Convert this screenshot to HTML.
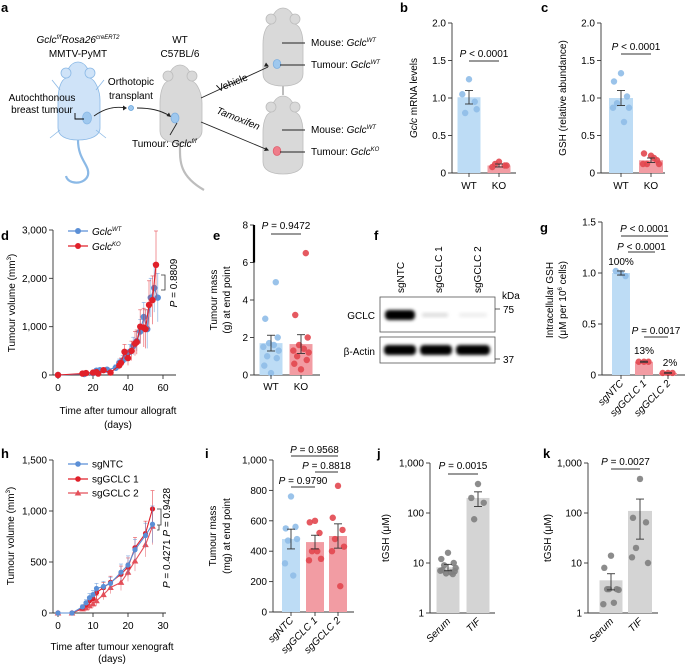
<!DOCTYPE html>
<html><head><meta charset="utf-8">
<style>
html,body{margin:0;padding:0;background:#fff;}
svg{display:block;font-family:"Liberation Sans",sans-serif;}
</style></head>
<body>
<svg id="fig" width="685" height="665" viewBox="0 0 685 665" xmlns="http://www.w3.org/2000/svg">
<defs>
<filter id="blur1" x="-20%" y="-50%" width="140%" height="200%"><feGaussianBlur stdDeviation="1.6"/></filter>
</defs>
<g font-size="10">
  <text x="1" y="12" font-weight="bold" font-size="13">a</text>
  <g fill="#cfe3f8" stroke="#8bb9e6" stroke-width="0.8">
    <path d="M78,62 C70,62 66,72 66,78 C60,80 58,92 58,100 L58,128 C58,136 66,140 78,140 C90,140 100,136 100,128 L100,100 C100,92 96,80 90,78 C90,72 86,62 78,62 Z"/>
    <circle cx="66" cy="73" r="5"/><circle cx="90" cy="73" r="5"/>
    <path d="M60,90 l-8,-10 M96,90 l8,-10 M60,130 l-10,8 M96,130 l10,8" fill="none"/>
    <path d="M78,140 C78,160 90,165 88,175 C85,185 68,185 66,176" fill="none" stroke-width="2.2"/>
    <ellipse cx="87" cy="118" rx="4.5" ry="6" fill="#9fc8ee"/>
  </g>
  <path d="M75,113 L75,119 L84,119" fill="none" stroke="#000" stroke-width="0.9"/>
  <g fill="#d9d9d9" stroke="#bdbdbd" stroke-width="0.8">
    <path d="M180,65 C172,65 168,75 168,81 C162,83 160,95 160,103 L160,131 C160,139 168,143 180,143 C192,143 202,139 202,131 L202,103 C202,95 198,83 192,81 C192,75 188,65 180,65 Z"/>
    <circle cx="168" cy="76" r="5"/><circle cx="192" cy="76" r="5"/>
    <path d="M180,143 C180,160 178,175 204,190" fill="none" stroke-width="2.2"/>
    <ellipse cx="175" cy="118" rx="4" ry="5" fill="#9fc8ee" stroke="#7fb0e0"/>
  </g>
  <g fill="#d9d9d9" stroke="#bdbdbd" stroke-width="0.8">
    <path d="M283,8 C275,8 271,18 271,24 C265,26 263,36 263,44 L263,74 C263,82 271,86 283,86 C295,86 303,82 303,74 L303,44 C303,36 301,26 295,24 C295,18 291,8 283,8 Z"/>
    <circle cx="271" cy="19" r="5"/><circle cx="295" cy="19" r="5"/>
    <path d="M283,86 L283,95" fill="none" stroke-width="2"/>
    <ellipse cx="277" cy="64" rx="3.8" ry="4.5" fill="#9fc8ee" stroke="#7fb0e0"/>
  </g>
  <g fill="#d9d9d9" stroke="#bdbdbd" stroke-width="0.8">
    <path d="M283,96 C275,96 271,106 271,112 C265,114 263,124 263,132 L263,162 C263,170 271,174 283,174 C295,174 303,170 303,162 L303,132 C303,124 301,114 295,112 C295,106 291,96 283,96 Z"/>
    <circle cx="271" cy="107" r="5"/><circle cx="295" cy="107" r="5"/>
    <ellipse cx="277" cy="151" rx="3.8" ry="4.5" fill="#ef7d8a" stroke="#e0606e"/>
  </g>
  <circle cx="131" cy="108" r="2.5" fill="#9fc8ee" stroke="#5fa0da" stroke-width="0.8"/>
  <g fill="none" stroke="#222" stroke-width="0.9">
    <path d="M94,116 C105,108 115,106 126,108"/>
    <path d="M137,108 C150,108 160,110 170,116"/>
    <line x1="201" y1="98" x2="268" y2="67"/>
    <line x1="201" y1="122" x2="268" y2="150"/>
    <line x1="177" y1="123" x2="170" y2="135"/>
    <line x1="282" y1="43" x2="305" y2="43"/><line x1="280" y1="65" x2="305" y2="65"/>
    <line x1="282" y1="130" x2="305" y2="130"/><line x1="280" y1="152" x2="305" y2="152"/>
  </g>
  <g fill="#222">
    <path d="M127,108 l-4,-2.5 l0,5 z"/><path d="M171,117 l-4.5,-1 l2.5,-3.5 z"/>
    <path d="M269,66.5 l-5,0 l2,-4 z"/><path d="M269,150.5 l-5,0.5 l2,-4 z"/>
  </g>
  <text x="78" y="43" text-anchor="middle"><tspan font-style="italic">Gclc</tspan><tspan font-size="6" dy="-4" font-style="italic">f/f</tspan><tspan dy="4" font-style="italic">Rosa26</tspan><tspan font-size="6" dy="-4" font-style="italic">creERT2</tspan></text>
  <text x="78" y="57" text-anchor="middle">MMTV-PyMT</text>
  <text x="180" y="43" text-anchor="middle">WT</text>
  <text x="180" y="57" text-anchor="middle">C57BL/6</text>
  <text x="131" y="85" text-anchor="middle">Orthotopic</text>
  <text x="131" y="99" text-anchor="middle">transplant</text>
  <text x="42" y="101" text-anchor="middle">Autochthonous</text>
  <text x="42" y="113" text-anchor="middle">breast tumour</text>
  <text x="132" y="147">Tumour: <tspan font-style="italic">Gclc</tspan><tspan font-size="6" dy="-4" font-style="italic">f/f</tspan></text>
  <text x="215" y="86" transform="rotate(-22 232 80)">Vehicle</text>
  <text x="212" y="120" transform="rotate(22 232 126)" font-style="italic">Tamoxifen</text>
  <text x="311" y="46">Mouse: <tspan font-style="italic">Gclc</tspan><tspan font-size="6" dy="-4" font-style="italic">WT</tspan></text>
  <text x="311" y="68">Tumour: <tspan font-style="italic">Gclc</tspan><tspan font-size="6" dy="-4" font-style="italic">WT</tspan></text>
  <text x="311" y="133">Mouse: <tspan font-style="italic">Gclc</tspan><tspan font-size="6" dy="-4" font-style="italic">WT</tspan></text>
  <text x="311" y="155">Tumour: <tspan font-style="italic">Gclc</tspan><tspan font-size="6" dy="-4" font-style="italic">KO</tspan></text>
</g>
<g font-size="10">
  <text x="374" y="240" font-weight="bold" font-size="13">f</text>
  <rect x="380" y="297" width="115" height="35" fill="#fff" stroke="#555" stroke-width="0.8"/>
  <rect x="380" y="337" width="115" height="26" fill="#fff" stroke="#555" stroke-width="0.8"/>
  <rect x="385" y="310" width="30" height="10" rx="4" fill="#000" filter="url(#blur1)"/>
  <rect x="422" y="313" width="26" height="4" rx="2" fill="#ddd" filter="url(#blur1)"/>
  <rect x="459" y="313" width="28" height="4" rx="2" fill="#eee" filter="url(#blur1)"/>
  <rect x="384" y="345" width="32" height="10" rx="4" fill="#000" filter="url(#blur1)"/>
  <rect x="420" y="345" width="32" height="10" rx="4" fill="#000" filter="url(#blur1)"/>
  <rect x="456" y="345" width="34" height="10" rx="4" fill="#000" filter="url(#blur1)"/>
  <text transform="translate(404,293) rotate(-90)">sgNTC</text>
  <text transform="translate(442,293) rotate(-90)">sgGCLC 1</text>
  <text transform="translate(481,293) rotate(-90)">sgGCLC 2</text>
  <text x="502" y="299">kDa</text>
  <line x1="495" y1="309" x2="500" y2="309" stroke="#333" stroke-width="0.8"/>
  <text x="503" y="313">75</text>
  <line x1="495" y1="359" x2="500" y2="359" stroke="#333" stroke-width="0.8"/>
  <text x="503" y="363">37</text>
  <text x="375" y="319" text-anchor="end">GCLC</text>
  <text x="375" y="355" text-anchor="end">β-Actin</text>
</g>
<g id="charts"></g>
</svg>
<script>
var bWT=[1.25,1.05,0.95,0.8,0.85], bKO=[0.15,0.08,0.1,0.12,0.1];
var bMeans=[1.01,0.1], bErr=[0.09,0.02];
var cWT=[1.33,1.22,1.02,0.93,0.87,0.87,0.68], cKO=[0.23,0.26,0.17,0.12,0.12,0.12,0.2];
var cMeans=[1.0,0.17], cErr=[0.1,0.03];
var dTimeWT=[0,15,20,22,24,28,33,35,37,39,41,43,45,47,49,51,53,55,57];
var dValWT=[0,20,40,90,100,110,150,250,300,390,480,600,700,900,1200,950,1600,1800,1600];
var dErrWT=[0,10,20,30,40,40,60,80,100,120,150,180,200,250,300,400,400,500,500];
var dTimeKO=[0,14,16,20,22,23,26,30,35,36,38,40,42,44,45,47,49,50,52,54,56];
var dValKO=[0,30,40,50,60,30,100,50,200,250,480,350,500,650,680,1000,980,950,1450,1550,2280];
var dErrKO=[0,10,10,20,20,20,30,30,80,100,150,150,200,250,250,350,400,400,500,500,700];
var eWT=[0.1,0.5,0.9,1.0,1.3,1.5,1.6,1.7,2.0,3.0,4.95], eKO=[0.3,0.6,0.8,1.0,1.2,1.3,1.4,1.6,2.0,3.2,6.5];
var eMeans=[1.7,1.65], eErr=[0.42,0.5];
var gNTC=[1.0,1.02,0.97], g1=[0.13,0.13,0.13], g2=[0.02,0.02,0.02];
var gMeans=[1.0,0.13,0.02], gErr=[0.02,0.005,0.003];
var hTime=[0,4,7,8,9,10,11,13,15,18,20,22,25,27];
var hNTC=[0,0,60,100,150,180,240,260,290,400,470,620,760,870];
var hSG1=[0,0,50,80,120,140,200,250,300,380,450,640,780,1020];
var hSG2=[0,0,40,50,70,90,120,180,250,300,400,510,670,850];
var hErr=[0,0,20,30,40,40,50,50,60,80,90,100,120,180];
var iNTC=[760,550,560,470,480,320,240], iSG1=[600,590,520,400,350,340,400], iSG2=[830,620,540,480,430,400,170];
var iMeans=[480,460,500], iErr=[65,45,80];
var jSerum=[16,12,10,9,8,7,6.5,6.2,6.8,7.2,6], jTIF=[380,200,160,75];
var jMeans=[8.2,200], jErr=[1.2,65];
var kSerum=[14,8,3,3,2.9,1.5,1.6,3], kTIF=[480,80,65,20,10,13];
var kMeans=[4.5,110], kErr=[1.6,80];

var C={blueBar:'#bddcf5',bluePt:'#8fbde8',redBar:'#f29ca3',redPt:'#e2474f',greyBar:'#d4d4d4',greyPt:'#808080',blueLine:'#5b8fd6',redLine:'#e0202a'};
var NS='http://www.w3.org/2000/svg';
var root=document.getElementById('charts');
function mk(tag,attrs,name,parent){
  var el=document.createElementNS(NS,tag);
  for(var k in attrs){el.setAttribute(k,attrs[k]);}
  
  
  (parent||root).appendChild(el);
  return el;
}
function txt(x,y,s,name,opts,parent){
  var a={x:x,y:y,'font-size':(opts&&opts.fs)||10};
  if(opts&&opts.anchor)a['text-anchor']=opts.anchor;
  if(opts&&opts.transform)a.transform=opts.transform;
  if(opts&&opts.italic)a['font-style']='italic';
  if(opts&&opts.bold)a['font-weight']='bold';
  var t=mk('text',a,name,parent);t.textContent=s;return t;
}
function lin(d0,d1,r0,r1){return function(v){return r0+(v-d0)/(d1-d0)*(r1-r0);};}
function logs(d0,d1,r0,r1){return function(v){return r0+(Math.log10(v)-Math.log10(d0))/(Math.log10(d1)-Math.log10(d0))*(r1-r0);};}
function yAxis(ax,ys,ticks,labels,x0,x1,name){
  var g=mk('g',{},name);
  mk('line',{x1:ax,y1:ys(ticks[0]),x2:ax,y2:ys(ticks[ticks.length-1]),stroke:'#333','stroke-width':0.9},'y-axis-line',g);
  for(var i=0;i<ticks.length;i++){
    mk('line',{x1:ax-4,y1:ys(ticks[i]),x2:ax,y2:ys(ticks[i]),stroke:'#333','stroke-width':0.9},'y-tick',g);
    txt(ax-6,ys(ticks[i])+3.5,labels[i],'y-tick-label',{anchor:'end'},g);
  }
  mk('line',{x1:ax,y1:ys(ticks[0]),x2:x1,y2:ys(ticks[0]),stroke:'#333','stroke-width':0.9},'x-axis-line',g);
}
var jit=[0,-7,6,-4,8,-8,3,-2,7,-6,5];
function barGroup(cx,w,ys,base,mean,err,pts,barC,ptC,name,tick){
  var g=mk('g',{},name);
  mk('rect',{x:cx-w/2,y:ys(mean),width:w,height:base-ys(mean),fill:barC},'bar',g);
  for(var i=0;i<pts.length;i++){
    mk('circle',{cx:cx+jit[i%jit.length]*(w/24),cy:ys(pts[i]),r:3.2,fill:ptC,'fill-opacity':0.9},'data-point',g);
  }
  mk('line',{x1:cx,y1:ys(mean+err),x2:cx,y2:ys(Math.max(mean-err,1e-9)),stroke:'#333','stroke-width':0.9},'error-bar',g);
  mk('line',{x1:cx-4,y1:ys(mean+err),x2:cx+4,y2:ys(mean+err),stroke:'#333','stroke-width':0.9},'error-cap',g);
  mk('line',{x1:cx-4,y1:ys(Math.max(mean-err,1e-9)),x2:cx+4,y2:ys(Math.max(mean-err,1e-9)),stroke:'#333','stroke-width':0.9},'error-cap',g);
  if(tick)mk('line',{x1:cx,y1:base,x2:cx,y2:base+4,stroke:'#333','stroke-width':0.9},'x-tick',g);
}
function pbar(x1,x2,y,label,name,ty){
  var g=mk('g',{},name);
  mk('line',{x1:x1,y1:y,x2:x2,y2:y,stroke:'#333','stroke-width':0.9},'significance-line',g);
  var t=txt((x1+x2)/2,ty,'','p-value',{anchor:'middle'},g);
  var s=document.createElementNS(NS,'tspan');s.setAttribute('font-style','italic');s.textContent='P';t.appendChild(s);
  t.appendChild(document.createTextNode(' '+label));
}
function rotLabel(x,y,s,name,italic){return txt(x,y,s,name,{anchor:'end',transform:'rotate(-45 '+x+' '+y+')',italic:italic});}

txt(400,12,'b','panel-label-b',{fs:13,bold:true});
var yb=lin(0,2,173,23);
yAxis(452,yb,[0,0.5,1,1.5,2],['0','0.5','1.0','1.5','2.0'],452,516,'panel-b-axis');
barGroup(469,23,yb,173,bMeans[0],bErr[0],bWT,C.blueBar,C.bluePt,'panel-b-wt',true);
barGroup(499,23,yb,173,bMeans[1],bErr[1],bKO,C.redBar,C.redPt,'panel-b-ko',true);
txt(469,189,'WT','x-label-wt',{anchor:'middle'});txt(499,189,'KO','x-label-ko',{anchor:'middle'});
pbar(469,499,61,'< 0.0001','panel-b-pvalue',57);
txt(417,98,'','panel-b-ylabel',{anchor:'middle',transform:'rotate(-90 417 98)'}).innerHTML='<tspan font-style="italic">Gclc</tspan> mRNA levels';
txt(541,12,'c','panel-label-c',{fs:13,bold:true});
var yc=lin(0,2,173,23);
yAxis(601,yc,[0,0.5,1,1.5,2],['0','0.5','1.0','1.5','2.0'],601,665,'panel-c-axis');
barGroup(621,24,yc,173,cMeans[0],cErr[0],cWT,C.blueBar,C.bluePt,'panel-c-wt',true);
barGroup(651,24,yc,173,cMeans[1],cErr[1],cKO,C.redBar,C.redPt,'panel-c-ko',true);
txt(621,189,'WT','x-label-wt',{anchor:'middle'});txt(651,189,'KO','x-label-ko',{anchor:'middle'});
pbar(621,651,54,'< 0.0001','panel-c-pvalue',50);
txt(566,98,'GSH (relative abundance)','panel-c-ylabel',{anchor:'middle',transform:'rotate(-90 566 98)'});

txt(1,240,'d','panel-label-d',{fs:13,bold:true});
var xd=lin(0,60,58,163), yd=lin(0,3000,375,230);
yAxis(53,yd,[0,1000,2000,3000],['0','1,000','2,000','3,000'],53,176,'panel-d-axis');
[0,20,40,60].forEach(function(v){
  mk('line',{x1:xd(v),y1:375,x2:xd(v),y2:379,stroke:'#333','stroke-width':0.9},'x-tick');
  txt(xd(v),391,String(v),'x-tick-label',{anchor:'middle'});
});
txt(118,414,'Time after tumour allograft','panel-d-xlabel',{anchor:'middle'});
txt(118,428,'(days)','panel-d-xlabel-units',{anchor:'middle'});
txt(15,303,'','panel-d-ylabel',{anchor:'middle',transform:'rotate(-90 15 303)'}).innerHTML='Tumour volume (mm<tspan font-size="6" dy="-4">3</tspan><tspan dy="4">)</tspan>';
function series(times,vals,errs,color,name,marker){
  var g=mk('g',{},name);
  for(var i=0;i<times.length;i++){
    mk('line',{x1:xd2(times[i]),y1:ys2(vals[i]+errs[i]),x2:xd2(times[i]),y2:ys2(Math.max(vals[i]-errs[i],0)),stroke:color,'stroke-width':0.8,'stroke-opacity':0.6},'error-bar',g);
    mk('line',{x1:xd2(times[i])-2,y1:ys2(vals[i]+errs[i]),x2:xd2(times[i])+2,y2:ys2(vals[i]+errs[i]),stroke:color,'stroke-width':0.8,'stroke-opacity':0.6},'error-cap',g);
  }
  var p='';for(var i=0;i<times.length;i++){p+=(i?'L':'M')+xd2(times[i]).toFixed(1)+','+ys2(vals[i]).toFixed(1);}
  mk('path',{d:p,fill:'none',stroke:color,'stroke-width':1.1},'series-line',g);
  for(var i=0;i<times.length;i++){
    if(marker==='tri'){var x=xd2(times[i]),y=ys2(vals[i]);
      mk('path',{d:'M'+x+','+(y-3.3)+'L'+(x+3.3)+','+(y+2.5)+'L'+(x-3.3)+','+(y+2.5)+'Z',fill:color},'data-point',g);}
    else mk('circle',{cx:xd2(times[i]),cy:ys2(vals[i]),r:marker==='big'?3.2:2.6,fill:color},'data-point',g);
  }
}
var xd2=xd, ys2=yd;
series(dTimeWT,dValWT,dErrWT,C.blueLine,'series-gclc-wt','big');
series(dTimeKO,dValKO,dErrKO,C.redLine,'series-gclc-ko','big');
mk('line',{x1:68,y1:231,x2:88,y2:231,stroke:C.blueLine,'stroke-width':1.2},'legend-line-wt');
mk('circle',{cx:78,cy:231,r:3,fill:C.blueLine},'legend-marker-wt');
txt(92,235,'','legend-entry-wt',{}).innerHTML='<tspan font-style="italic">Gclc</tspan><tspan font-size="6" dy="-4" font-style="italic">WT</tspan>';
mk('line',{x1:68,y1:246,x2:88,y2:246,stroke:C.redLine,'stroke-width':1.2},'legend-line-ko');
mk('circle',{cx:78,cy:246,r:3,fill:C.redLine},'legend-marker-ko');
txt(92,250,'','legend-entry-ko',{}).innerHTML='<tspan font-style="italic">Gclc</tspan><tspan font-size="6" dy="-4" font-style="italic">KO</tspan>';
mk('path',{d:'M161,275 L165,275 L165,290 L161,290',fill:'none',stroke:'#333','stroke-width':0.8},'d-bracket');
txt(177,283,'','panel-d-pvalue',{anchor:'middle',transform:'rotate(-90 177 283)'}).innerHTML='<tspan font-style="italic">P</tspan> = 0.8809';

txt(213,240,'e','panel-label-e',{fs:13,bold:true});
var ye=lin(0,8,375,225);
yAxis(254,ye,[0,2,4,6,8],['0','2','4','6','8'],254,320,'panel-e-axis');
mk('line',{x1:254,y1:ye(8),x2:254,y2:ye(6),stroke:'#000','stroke-width':2.2},'axis-artifact');
barGroup(271,23,ye,375,eMeans[0],eErr[0],eWT,C.blueBar,C.bluePt,'panel-e-wt',true);
barGroup(301,23,ye,375,eMeans[1],eErr[1],eKO,C.redBar,C.redPt,'panel-e-ko',true);
txt(271,390,'WT','x-label-wt',{anchor:'middle'});txt(301,390,'KO','x-label-ko',{anchor:'middle'});
pbar(271,301,234,'= 0.9472','panel-e-pvalue',229);
txt(217,300,'Tumour mass','panel-e-ylabel-1',{anchor:'middle',transform:'rotate(-90 217 300)'});
txt(230,300,'(g) at end point','panel-e-ylabel-2',{anchor:'middle',transform:'rotate(-90 230 300)'});

txt(540,232,'g','panel-label-g',{fs:13,bold:true});
var yg=lin(0,1.5,375,222);
yAxis(602,yg,[0,0.5,1,1.5],['0','0.5','1.0','1.5'],602,685,'panel-g-axis');
var gx=[621,644,668];
barGroup(gx[0],18,yg,375,gMeans[0],gErr[0],gNTC,C.blueBar,C.bluePt,'panel-g-sgntc',true);
barGroup(gx[1],18,yg,375,gMeans[1],gErr[1],g1,C.redBar,C.redPt,'panel-g-sggclc1',true);
barGroup(gx[2],18,yg,375,gMeans[2],gErr[2],g2,C.redBar,C.redPt,'panel-g-sggclc2',true);
txt(gx[0],265,'100%','pct-sgntc',{anchor:'middle'});
txt(gx[1],354,'13%','pct-sggclc1',{anchor:'middle'});
txt(gx[2]+2,366,'2%','pct-sggclc2',{anchor:'middle'});
pbar(621,668,236,'< 0.0001','panel-g-pvalue-2',232);
pbar(628,655,252,'< 0.0001','panel-g-pvalue-1',250);
pbar(644,668,337,'= 0.0017','panel-g-pvalue-3',334);
rotLabel(gx[0]+3,384,'sgNTC','x-label-sgntc',true);
rotLabel(gx[1]+3,384,'sgGCLC 1','x-label-sggclc1',true);
rotLabel(gx[2]+3,384,'sgGCLC 2','x-label-sggclc2',true);
txt(553,300,'Intracellular GSH','panel-g-ylabel-1',{anchor:'middle',transform:'rotate(-90 553 300)'});
txt(566,300,'','panel-g-ylabel-2',{anchor:'middle',transform:'rotate(-90 566 300)'}).innerHTML='(μM per 10<tspan font-size="6" dy="-4">6</tspan><tspan dy="4"> cells)</tspan>';

txt(1,458,'h','panel-label-h',{fs:13,bold:true});
var xh=lin(0,30,58,163), yh=lin(0,1500,613,460);
yAxis(53,yh,[0,500,1000,1500],['0','500','1,000','1,500'],53,166,'panel-h-axis');
[0,10,20,30].forEach(function(v){
  mk('line',{x1:xh(v),y1:613,x2:xh(v),y2:617,stroke:'#333','stroke-width':0.9},'x-tick');
  txt(xh(v),629,String(v),'x-tick-label',{anchor:'middle'});
});
txt(112,650,'Time after tumour xenograft','panel-h-xlabel',{anchor:'middle'});
txt(112,662,'(days)','panel-h-xlabel-units',{anchor:'middle'});
txt(14,536,'','panel-h-ylabel',{anchor:'middle',transform:'rotate(-90 14 536)'}).innerHTML='Tumour volume (mm<tspan font-size="6" dy="-4">3</tspan><tspan dy="4">)</tspan>';
xd2=xh; ys2=yh;
series(hTime,hSG2,hErr,'#e4505a','series-sggclc2','tri');
series(hTime,hSG1,hErr,C.redLine,'series-sggclc1','small');
series(hTime,hNTC,hErr,C.blueLine,'series-sgntc','small');
var leg=[['sgNTC',C.blueLine,464,'small'],['sgGCLC 1',C.redLine,479,'small'],['sgGCLC 2','#e4505a',493,'tri']];
leg.forEach(function(l){
  mk('line',{x1:68,y1:l[2],x2:88,y2:l[2],stroke:l[1],'stroke-width':1.2},'legend-line');
  if(l[3]==='tri')mk('path',{d:'M78,'+(l[2]-3.3)+'L81.3,'+(l[2]+2.5)+'L74.7,'+(l[2]+2.5)+'Z',fill:l[1]},'legend-marker');
  else mk('circle',{cx:78,cy:l[2],r:2.8,fill:l[1]},'legend-marker');
  txt(92,l[2]+3.5,l[0],'legend-entry');
});
mk('path',{d:'M157,509 L161,509 L161,525 L157,525 M157,525 L159,525 L159,530 L157,530',fill:'none',stroke:'#333','stroke-width':0.8},'h-brackets');
txt(170,538,'','panel-h-pvalue',{anchor:'middle',transform:'rotate(-90 170 538)'}).innerHTML='<tspan font-style="italic">P</tspan> = 0.4271 <tspan font-style="italic">P</tspan> = 0.9428';

txt(205,458,'i','panel-label-i',{fs:13,bold:true});
var yi=lin(0,1000,612,460);
yAxis(273,yi,[0,200,400,600,800,1000],['0','200','400','600','800','1,000'],273,354,'panel-i-axis');
var ix=[291,315,338];
barGroup(ix[0],18,yi,612,iMeans[0],iErr[0],iNTC,C.blueBar,C.bluePt,'panel-i-sgntc',true);
barGroup(ix[1],18,yi,612,iMeans[1],iErr[1],iSG1,C.redBar,C.redPt,'panel-i-sggclc1',true);
barGroup(ix[2],18,yi,612,iMeans[2],iErr[2],iSG2,C.redBar,C.redPt,'panel-i-sggclc2',true);
pbar(291,338,456,'= 0.9568','panel-i-pvalue-1',453);
pbar(315,338,472,'= 0.8818','panel-i-pvalue-2',469);
pbar(291,315,487,'= 0.9790','panel-i-pvalue-3',484);
rotLabel(ix[0]+3,621,'sgNTC','x-label-sgntc',true);
rotLabel(ix[1]+3,621,'sgGCLC 1','x-label-sggclc1',true);
rotLabel(ix[2]+3,621,'sgGCLC 2','x-label-sggclc2',true);
txt(216,536,'Tumour mass','panel-i-ylabel-1',{anchor:'middle',transform:'rotate(-90 216 536)'});
txt(230,536,'(mg) at end point','panel-i-ylabel-2',{anchor:'middle',transform:'rotate(-90 230 536)'});

txt(377,458,'j','panel-label-j',{fs:13,bold:true});
var yj=logs(1,1000,613,463);
yAxis(430,yj,[1,10,100,1000],['1','10','100','1,000'],430,495,'panel-j-axis');
barGroup(448,23,yj,613,jMeans[0],jErr[0],jSerum,C.greyBar,C.greyPt,'panel-j-serum',false);
barGroup(478,23,yj,613,jMeans[1],jErr[1],jTIF,C.greyBar,C.greyPt,'panel-j-tif',false);
pbar(448,478,474,'= 0.0015','panel-j-pvalue',469);
rotLabel(451,622,'Serum','x-label-serum',true);
rotLabel(481,622,'TIF','x-label-tif',true);
txt(389,538,'tGSH (μM)','panel-j-ylabel',{anchor:'middle',transform:'rotate(-90 389 538)'});

txt(543,458,'k','panel-label-k',{fs:13,bold:true});
var yk=logs(1,1000,613,463);
yAxis(588,yk,[1,10,100,1000],['1','10','100','1,000'],588,658,'panel-k-axis');
barGroup(611,23,yk,613,kMeans[0],kErr[0],kSerum,C.greyBar,C.greyPt,'panel-k-serum',false);
barGroup(640,24,yk,613,kMeans[1],kErr[1],kTIF,C.greyBar,C.greyPt,'panel-k-tif',false);
pbar(611,640,469,'= 0.0027','panel-k-pvalue',465);
rotLabel(614,622,'Serum','x-label-serum',true);
rotLabel(643,622,'TIF','x-label-tif',true);
txt(551,538,'tGSH (μM)','panel-k-ylabel',{anchor:'middle',transform:'rotate(-90 551 538)'});
</script>
</body></html>
